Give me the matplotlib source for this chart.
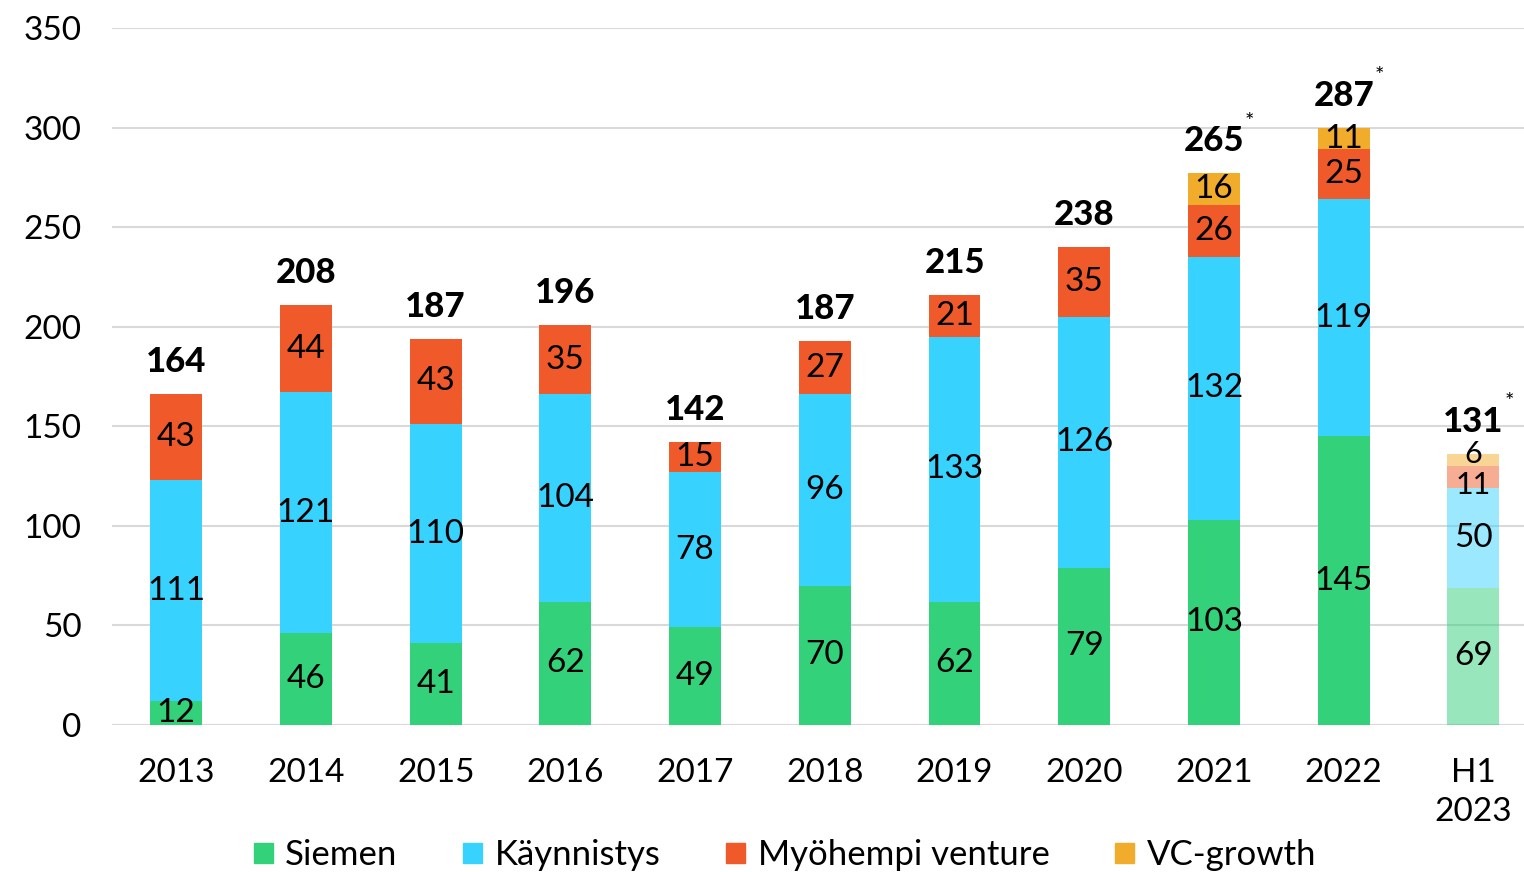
import matplotlib
matplotlib.use("Agg")
import matplotlib.pyplot as plt
from matplotlib.patches import Patch

categories = ["2013", "2014", "2015", "2016", "2017", "2018", "2019", "2020", "2021", "2022", "H1\n2023"]
siemen = [12, 46, 41, 62, 49, 70, 62, 79, 103, 145, 69]
kaynnistys = [111, 121, 110, 104, 78, 96, 133, 126, 132, 119, 50]
myohempi = [43, 44, 43, 35, 15, 27, 21, 35, 26, 25, 11]
vcgrowth = [0, 0, 0, 0, 0, 0, 0, 0, 16, 11, 6]
totals = ["164", "208", "187", "196", "142", "187", "215", "238", "265", "287", "131"]
starred = [False] * 8 + [True] * 3
series_names = ["Siemen", "Käynnistys", "Myöhempi venture", "VC-growth"]
colors = ["#33D17A", "#38D2FF", "#F05A2A", "#F2AC2C"]

plt.rcParams['font.family'] = ['Lato', 'DejaVu Sans']

fig = plt.figure(figsize=(15.24, 8.72), dpi=100)
ax = fig.add_axes([112/1524, 1 - 725/872, 1 - 112/1524, (725 - 28)/872])

x = list(range(len(categories)))
width = 0.40
series = [siemen, kaynnistys, myohempi, vcgrowth]
bottoms = [0] * len(categories)
for k, (s, col) in enumerate(zip(series, colors)):
    for i in x:
        if s[i] == 0:
            continue
        last = i == len(categories) - 1
        alpha = 0.5 if last else 1.0
        ax.bar(i, s[i], width, bottom=bottoms[i], color=col, alpha=alpha, zorder=3)
        fs = 22 if (last and s[i] < 15) else 24
        dy = 0
        if last and k == 3:
            dy = 3
        elif last and k == 2:
            dy = -4
        ax.text(i, bottoms[i] + s[i] / 2 + dy, str(s[i]), ha="center", va="center",
                fontsize=fs, color="black", zorder=4)
    bottoms = [b + v for b, v in zip(bottoms, s)]

for i in x:
    top = bottoms[i]
    ax.text(i, top + 8, totals[i], ha="center", va="bottom", fontsize=25,
            fontweight="black", color="black", zorder=4)
    if starred[i]:
        ax.text(i + 0.24, top + 26, "*", ha="left", va="center", fontsize=16,
                color="black", zorder=4)

ax.set_ylim(0, 350)
ax.set_xlim(-0.495, 10.39)
ax.set_yticks(range(0, 351, 50))
ax.set_xticks(x)
ax.set_xticklabels(categories, fontsize=24, linespacing=1.35)
ax.tick_params(axis="y", labelsize=24, length=0, pad=22)
ax.tick_params(axis="x", length=0, pad=24)
ax.grid(axis="y", color="#D9D9D9", linewidth=1.5, zorder=0)
for sp in ax.spines.values():
    sp.set_visible(False)
ax.axhline(0, color="#D9D9D9", linewidth=1.5, zorder=1)

handles = [Patch(color=c) for c in colors]
fig.legend(handles, series_names, loc="lower center", ncol=4, frameon=False,
           prop={"size": 25}, bbox_to_anchor=(0.515, -0.035),
           handlelength=0.55, handleheight=0.55, handletextpad=0.35, columnspacing=1.9)

fig.savefig("out.png", dpi=100)
